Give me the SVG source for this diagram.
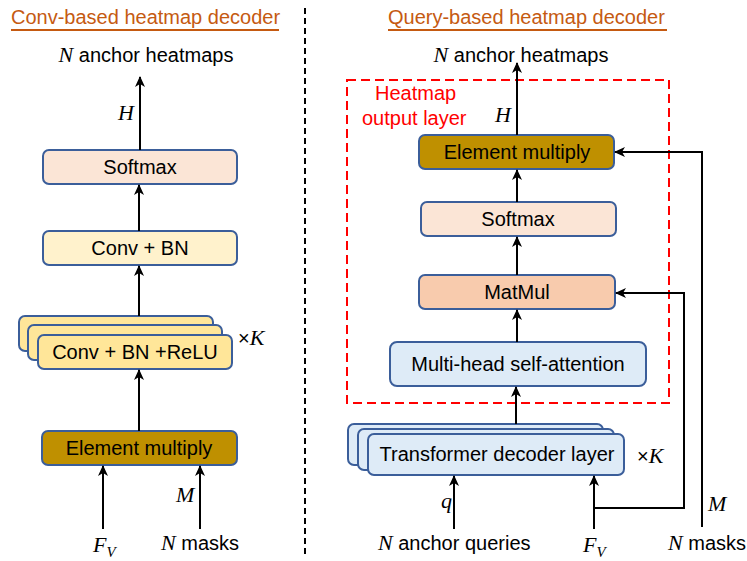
<svg xmlns="http://www.w3.org/2000/svg" width="747" height="561" viewBox="0 0 747 561">
<style>
.t{font-family:"Liberation Sans",Arial,sans-serif;font-size:20px;fill:#000}
.m{font-family:"Liberation Serif","Times New Roman",serif;font-style:italic;font-size:22px;fill:#000}
.ttl{font-family:"Liberation Sans",Arial,sans-serif;font-size:20px;fill:#C55A11}
.box{stroke:#3B5E9A;stroke-width:2}
.c{stroke:#000;stroke-width:2;fill:none}
.red{font-family:"Liberation Sans",Arial,sans-serif;font-size:20px;fill:#FF0000}
</style>
<defs>
<marker id="ah" markerWidth="12" markerHeight="12" refX="10" refY="6" orient="auto" markerUnits="userSpaceOnUse">
<path d="M0,1 L11,6 L0,11 L3,6 z" fill="#000"/>
</marker>
</defs>
<rect width="747" height="561" fill="#fff"/>

<!-- titles -->
<g id="title-left">
<text class="ttl" x="11" y="24">Conv-based heatmap decoder</text>
<line x1="11" y1="30" x2="279" y2="30" stroke="#C55A11" stroke-width="2"/>
</g>
<g id="title-right">
<text class="ttl" x="388" y="24">Query-based heatmap decoder</text>
<line x1="388" y1="30" x2="667" y2="30" stroke="#C55A11" stroke-width="2"/>
</g>
<line id="divider" x1="305" y1="8" x2="305" y2="556" stroke="#000" stroke-width="2" stroke-dasharray="6,4"/>

<!-- left nodes -->
<g id="l-out"><text class="t" x="146" y="62" text-anchor="middle"><tspan class="m" font-size="22">N</tspan> anchor heatmaps</text></g>
<g id="l-softmax"><rect class="box" x="43" y="150" width="194" height="34" rx="6" fill="#FBE5D6"/><text class="t" x="140" y="174" text-anchor="middle">Softmax</text></g>
<g id="l-convbn"><rect class="box" x="43" y="231" width="194" height="34" rx="6" fill="#FFF2CC"/><text class="t" x="140" y="255" text-anchor="middle">Conv + BN</text></g>
<g id="l-stack">
<rect class="box" x="19" y="316" width="194" height="35" rx="6" fill="#FFE699"/>
<rect class="box" x="28" y="325" width="194" height="35" rx="6" fill="#FFE699"/>
<rect class="box" x="38" y="335" width="194" height="34" rx="6" fill="#FFE699"/>
<text class="t" x="135" y="359" text-anchor="middle">Conv + BN +ReLU</text>
<text class="t" x="238" y="345">×<tspan class="m">K</tspan></text>
</g>
<g id="l-mult"><rect class="box" x="42" y="431" width="195" height="34" rx="6" fill="#BF9000"/><text class="t" x="139" y="455" text-anchor="middle">Element multiply</text></g>
<g id="l-fv"><text class="m" x="93" y="552">F<tspan font-size="15" dy="5">V</tspan></text></g>
<g id="l-masks"><text class="t" x="161" y="550"><tspan class="m">N</tspan> masks</text></g>

<!-- right nodes -->
<g id="r-out"><text class="t" x="521" y="62" text-anchor="middle"><tspan class="m">N</tspan> anchor heatmaps</text></g>
<g id="r-frame">
<rect x="347" y="80" width="322" height="323" fill="none" stroke="#FF0000" stroke-width="2" stroke-dasharray="9,5"/>
<text class="red" x="375" y="100">Heatmap</text>
<text class="red" x="362" y="125">output layer</text>
</g>
<g id="r-mult"><rect class="box" x="419" y="135" width="195" height="34" rx="6" fill="#BF9000"/><text class="t" x="517" y="159" text-anchor="middle">Element multiply</text></g>
<g id="r-softmax"><rect class="box" x="421" y="202" width="195" height="34" rx="6" fill="#FBE5D6"/><text class="t" x="518" y="226" text-anchor="middle">Softmax</text></g>
<g id="r-matmul"><rect class="box" x="419" y="275" width="196" height="34" rx="6" fill="#F8CBAD"/><text class="t" x="517" y="299" text-anchor="middle">MatMul</text></g>
<g id="r-mhsa"><rect class="box" x="390" y="342" width="256" height="44" rx="7" fill="#DEEBF7"/><text class="t" x="518" y="371" text-anchor="middle">Multi-head self-attention</text></g>
<g id="r-stack">
<rect class="box" x="348" y="424" width="255" height="41" rx="6" fill="#DEEBF7"/>
<rect class="box" x="358" y="429" width="256" height="41" rx="6" fill="#DEEBF7"/>
<rect class="box" x="368" y="434" width="256" height="41" rx="6" fill="#DEEBF7"/>
<text class="t" x="497" y="461" text-anchor="middle">Transformer decoder layer</text>
<text class="t" x="637" y="463">×<tspan class="m">K</tspan></text>
</g>
<g id="r-queries"><text class="t" x="378" y="550"><tspan class="m">N</tspan> anchor queries</text></g>
<g id="r-fv"><text class="m" x="583" y="552">F<tspan font-size="15" dy="5">V</tspan></text></g>
<g id="r-masks"><text class="t" x="668" y="550"><tspan class="m">N</tspan> masks</text></g>

<!-- connectors -->
<g id="connectors">
<line class="c" x1="140" y1="150" x2="140" y2="77" marker-end="url(#ah)"/>
<line class="c" x1="139" y1="231" x2="139" y2="185" marker-end="url(#ah)"/>
<line class="c" x1="139" y1="316" x2="139" y2="266" marker-end="url(#ah)"/>
<line class="c" x1="139" y1="431" x2="139" y2="370" marker-end="url(#ah)"/>
<line class="c" x1="103" y1="529" x2="103" y2="466" marker-end="url(#ah)"/>
<line class="c" x1="200" y1="529" x2="200" y2="466" marker-end="url(#ah)"/>
<line class="c" x1="517" y1="135" x2="517" y2="63" marker-end="url(#ah)"/>
<line class="c" x1="517" y1="202" x2="517" y2="170" marker-end="url(#ah)"/>
<line class="c" x1="517" y1="275" x2="517" y2="237" marker-end="url(#ah)"/>
<line class="c" x1="517" y1="342" x2="517" y2="310" marker-end="url(#ah)"/>
<line class="c" x1="516" y1="424" x2="516" y2="387" marker-end="url(#ah)"/>
<line class="c" x1="454" y1="529" x2="454" y2="476" marker-end="url(#ah)"/>
<line class="c" x1="594" y1="529" x2="594" y2="476" marker-end="url(#ah)"/>
<polyline class="c" points="594,508 684,508 684,293 616,293" marker-end="url(#ah)"/>
<polyline class="c" points="702,527 702,152 615,152" marker-end="url(#ah)"/>
</g>
<g id="edge-labels">
<text class="m" x="118" y="120">H</text>
<text class="m" x="176" y="502">M</text>
<text class="m" x="495" y="122">H</text>
<text class="m" x="441" y="508">q</text>
<text class="m" x="708" y="511">M</text>
</g>
</svg>
